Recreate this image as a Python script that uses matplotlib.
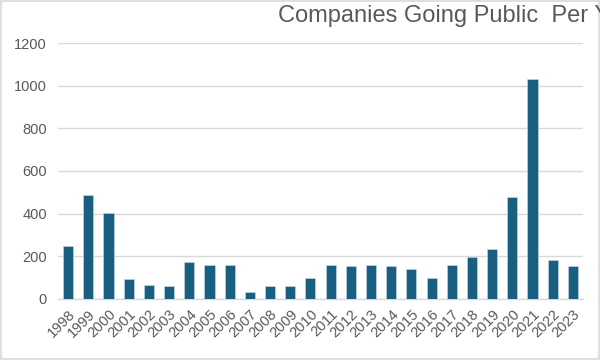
import matplotlib.pyplot as plt
import numpy as np

years = [str(y) for y in range(1998, 2024)]
ipos = [246, 486, 404, 91, 64, 61, 172, 158, 157, 30, 60, 61,
        100, 157, 156, 157, 155, 140, 99, 158, 195, 232, 478, 1034, 180, 152]

plt.rcParams['font.family'] = ['Liberation Sans', 'DejaVu Sans']

fig = plt.figure(figsize=(6, 3.6), dpi=100)
ax = fig.add_axes([0.0967, 0.17, 0.875, 0.71])

x = np.arange(len(years))
ax.bar(x, ipos, width=0.5, color='#185f82', edgecolor='#c9dbe6', linewidth=0.4, zorder=3)

ax.set_xlim(-0.5, len(years) - 0.5)
ax.set_ylim(0, 1200)
ax.set_yticks(range(0, 1201, 200))
ax.yaxis.grid(True, color='#d9d9d9', linewidth=1, zorder=0)
ax.set_axisbelow(True)

for s in ['top', 'right', 'left']:
    ax.spines[s].set_visible(False)
ax.spines['bottom'].set_color('#d9d9d9')
ax.spines['bottom'].set_linewidth(1)

ax.set_xticks(x)
ax.set_xticklabels(years, rotation=45, ha='right', rotation_mode='anchor')
ax.tick_params(axis='both', length=0, labelsize=10.5, colors='#595959')
ax.tick_params(axis='x', pad=6)
ax.tick_params(axis='y', pad=8)

# title runs past the right edge, as in the original
fig.text(0.463, 0.938, "Companies Going Public  Per Year", fontsize=17,
         color='#595959', ha='left', va='baseline')

fig.patches.append(plt.Rectangle((0.001, 0.002), 0.997, 0.995, transform=fig.transFigure,
                                 fill=False, edgecolor='#d9d9d9', linewidth=1.2))

fig.savefig('out.png', dpi=100)
